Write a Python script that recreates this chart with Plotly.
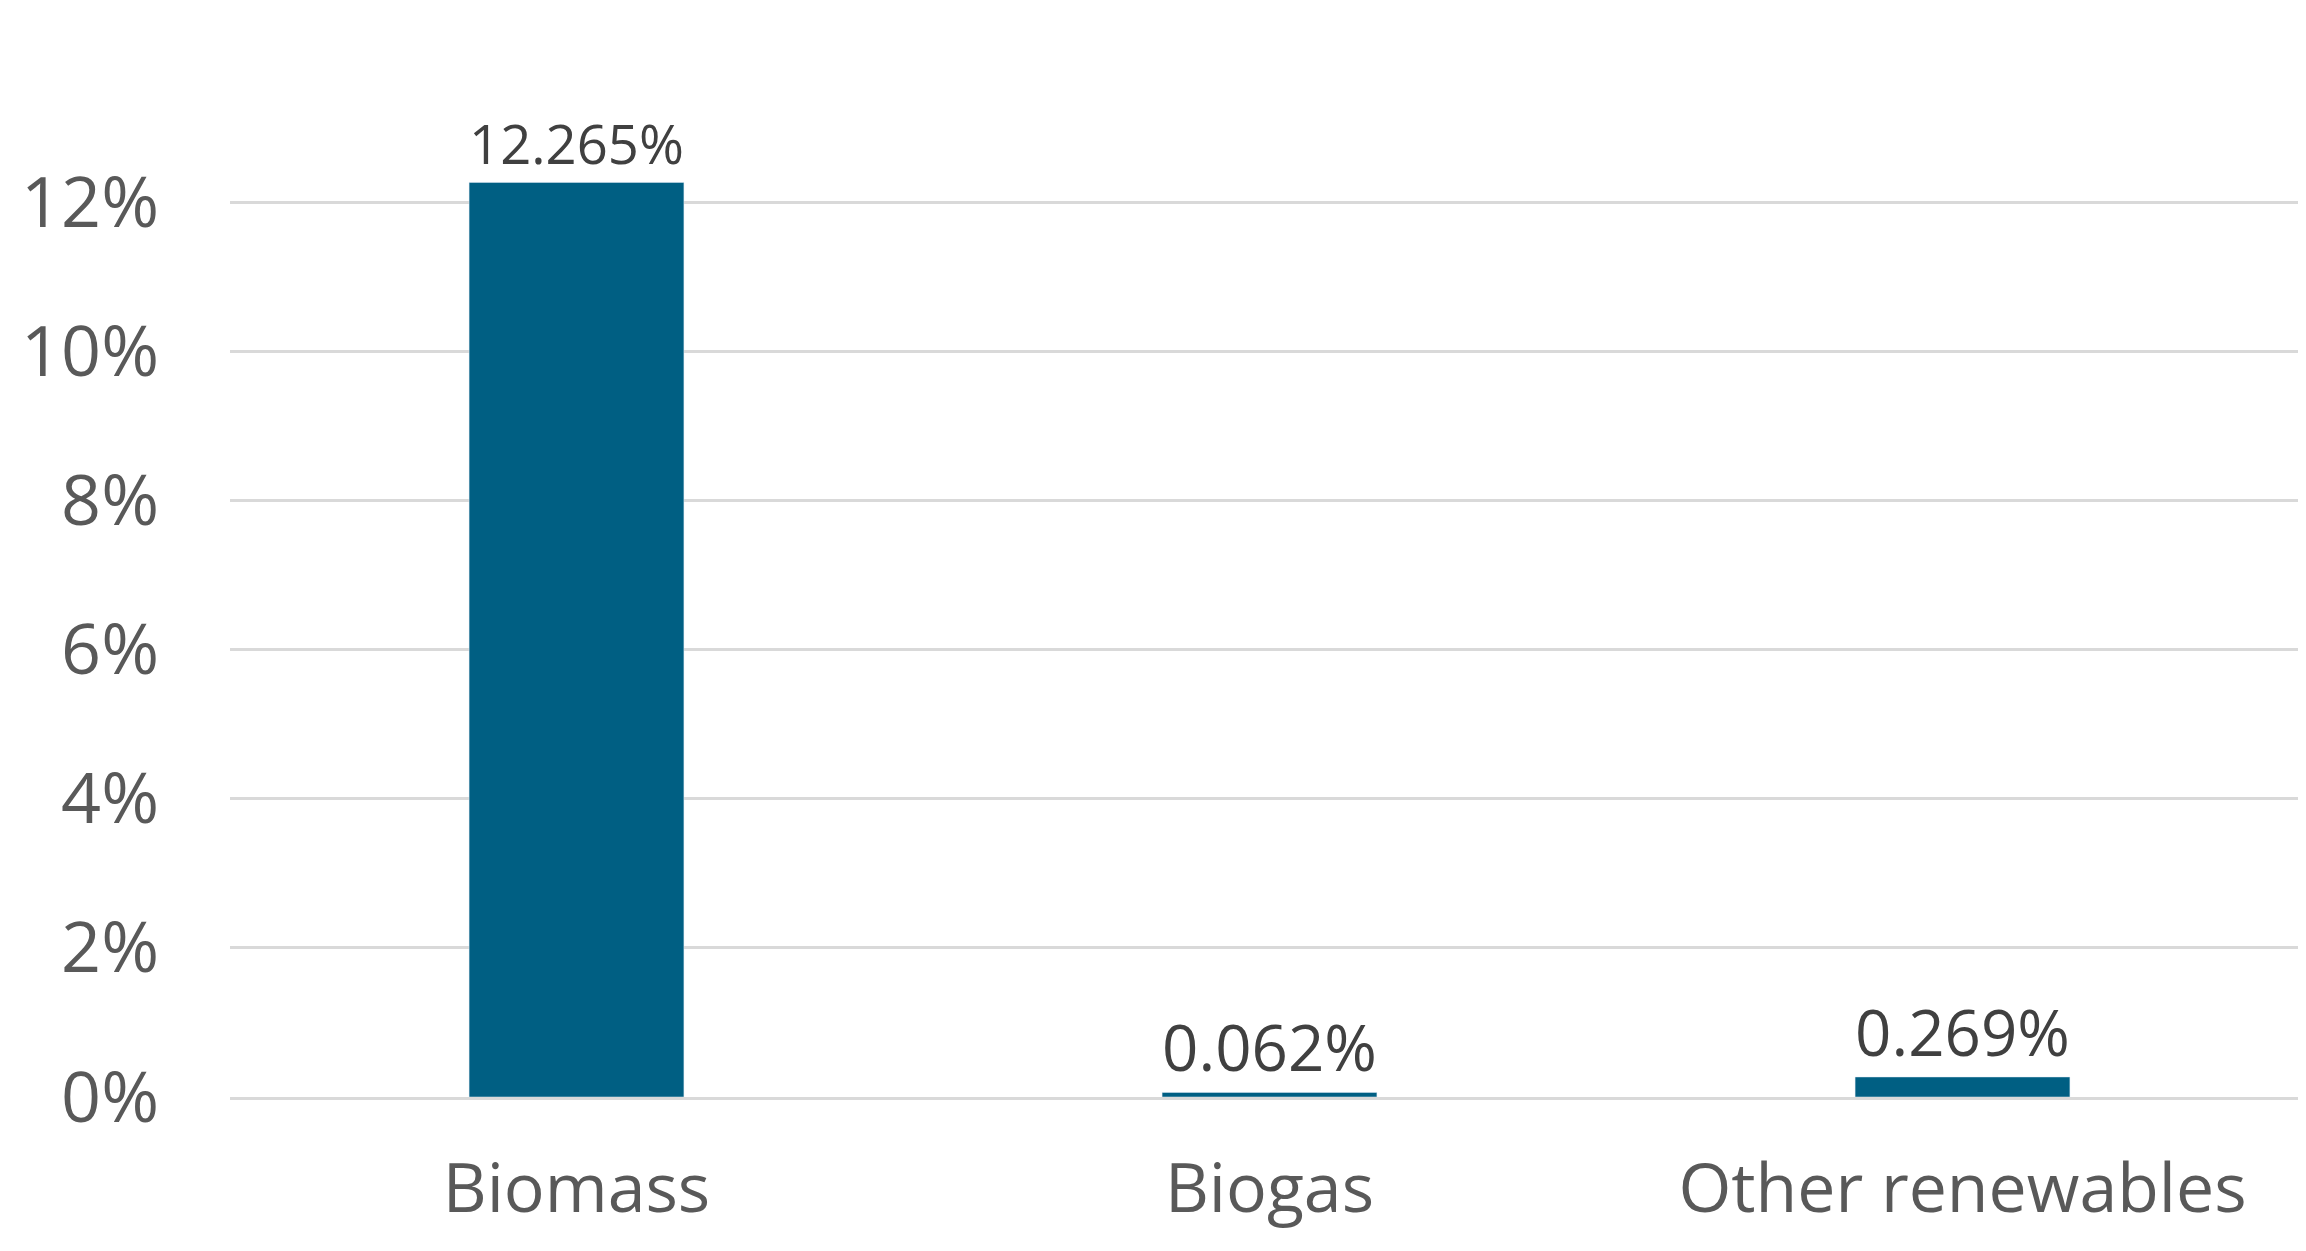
import plotly.graph_objects as go

categories = ["Biomass", "Biogas", "Other renewables"]
values = [12.265, 0.062, 0.269]
labels = ["12.265%", "0.062%", "0.269%"]

fig = go.Figure(go.Bar(
    x=categories, y=values, text=labels, textposition="outside",
    marker_color="#005F83", width=0.31, cliponaxis=False,
    textfont=dict(size=80, color="#404040", family="Open Sans"),
))
fig.update_layout(
    width=2306, height=1251, plot_bgcolor="white", paper_bgcolor="white",
    margin=dict(l=222, r=5, t=45, b=162), showlegend=False,
    font=dict(family="Open Sans", color="#595959"),
)
fig.update_yaxes(range=[0, 14], dtick=2, ticksuffix="%", gridcolor="#d9d9d9", gridwidth=3,
                 tickfont=dict(size=70), zeroline=False, showline=False, ticks="",
                 ticklabelstandoff=70)
fig.update_xaxes(tickfont=dict(size=68), showline=True, linecolor="#d9d9d9", linewidth=3,
                 ticklabelstandoff=30)
fig.write_html("out.html")
